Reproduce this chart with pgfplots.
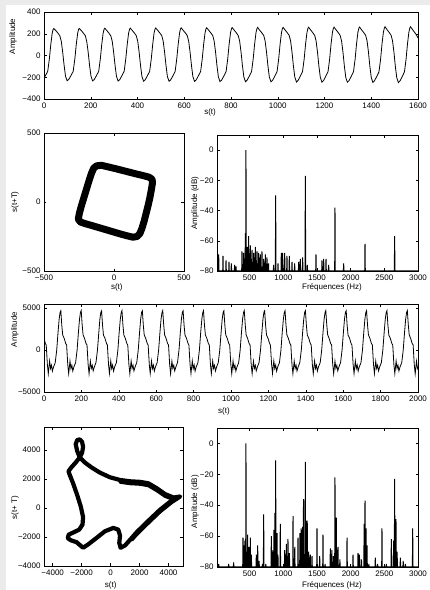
\documentclass[border=0pt]{standalone}
\usepackage{fontspec}
\setmainfont{Liberation Sans}
\usepackage{pgfplots}
\pgfplotsset{compat=1.18}
\definecolor{bggray}{HTML}{EBEBEB}
\pgfplotsset{
  mfig/.style={scale only axis, anchor=north west,
    axis line style={line width=0.7bp,black},
    tick align=inside, major tick length=2.5bp,
    tick style={line width=0.5bp,black},
    tick label style={font=\fontsize{8bp}{9.6bp}\selectfont},
    label style={font=\fontsize{8bp}{9.6bp}\selectfont}},
  spec/.style={mfig, width=201bp, xmin=15, xmax=3000, ymin=-80, ymax=10,
    xtick={500,1000,...,3000}, xticklabels={500,1000,1500,2000,2500,3000},
    ytick={-80,-60,...,0}, yticklabels={−80,−60,−40,−20,0},
    xlabel={Fréquences (Hz)}, ylabel={Amplitude (dB)}},
}
\begin{document}
\begin{tikzpicture}
\fill[bggray] (0,0) rectangle (430bp,-590bp);
\fill[white] (6bp,-5bp) rectangle (430bp,-590bp);

% signal 1
\begin{axis}[mfig, at={(44bp,-12bp)}, width=374bp, height=87bp,
  xmin=0, xmax=1600, ymin=-400, ymax=400,
  xtick={0,200,...,1600}, xticklabels={0,200,400,600,800,1000,1200,1400,1600},
  ytick={-400,-200,0,200,400}, yticklabels={−400,−200,0,200,400},
  xlabel={s(t)}, ylabel={Amplitude},
  xlabel style={at={(axis description cs:0.444,-0.15)},anchor=center},
  ylabel style={at={(axis description cs:-0.083,0.72)},anchor=center}]
\addplot[black, line width=0.8bp] coordinates {
(0,-205) (5,-190) (16,-145) (23,-30) (29,100) (35,205) (39,240)
(42,248) (51,228) (60,205) (68,180) (74,130) (80,30) (86,-90) (92,-190) (99,-232) (106,-220) (114,-190) (125,-145) (132,-30) (138,100) (144,205) (148,240)
(151,249) (160,228) (169,204) (177,181) (183,128) (189,30) (195,-92) (201,-190) (208,-233) (215,-221) (223,-190) (234,-146) (241,-30) (247,100) (253,206) (257,241)
(260,251) (269,229) (278,205) (286,180) (292,130) (298,28) (304,-90) (310,-192) (317,-235) (324,-222) (332,-191) (343,-145) (350,-28) (356,102) (362,207) (366,242)
(369,252) (378,229) (387,206) (395,181) (401,131) (407,30) (413,-92) (419,-193) (426,-236) (433,-223) (441,-192) (452,-146) (459,-30) (465,101) (471,208) (475,243)
(478,253) (487,230) (496,206) (504,182) (510,130) (516,29) (522,-93) (528,-194) (535,-237) (542,-224) (550,-193) (561,-147) (568,-30) (574,102) (580,208) (584,244)
(587,254) (596,230) (605,207) (613,182) (619,131) (625,30) (631,-93) (637,-195) (644,-238) (651,-225) (659,-193) (670,-147) (677,-31) (683,103) (689,209) (693,245)
(696,255) (705,231) (714,207) (722,183) (728,132) (734,30) (740,-94) (746,-196) (753,-240) (760,-226) (768,-194) (779,-148) (786,-31) (792,103) (798,210) (802,246)
(805,257) (814,232) (823,208) (831,183) (837,132) (843,31) (849,-95) (855,-197) (862,-241) (869,-227) (877,-195) (888,-148) (895,-31) (901,104) (907,211) (911,247)
(914,258) (923,232) (932,208) (940,184) (946,133) (952,31) (958,-95) (964,-198) (971,-242) (978,-228) (986,-196) (997,-149) (1004,-32) (1010,104) (1016,211) (1020,248)
(1023,259) (1032,233) (1041,209) (1049,184) (1055,133) (1061,31) (1067,-96) (1073,-199) (1080,-244) (1087,-229) (1095,-196) (1106,-149) (1113,-32) (1119,105) (1125,212) (1129,249)
(1132,260) (1141,234) (1150,209) (1158,185) (1164,134) (1170,32) (1176,-97) (1182,-200) (1189,-245) (1196,-230) (1204,-197) (1215,-150) (1222,-32) (1228,105) (1234,213) (1238,250)
(1241,261) (1250,234) (1259,210) (1267,185) (1273,134) (1279,32) (1285,-97) (1291,-201) (1298,-246) (1305,-231) (1313,-198) (1324,-150) (1331,-33) (1337,106) (1343,214) (1347,251)
(1350,262) (1359,235) (1368,210) (1376,186) (1382,135) (1388,32) (1394,-98) (1400,-202) (1407,-248) (1414,-232) (1422,-199) (1433,-151) (1440,-33) (1446,106) (1452,214) (1456,252)
(1459,264) (1468,236) (1477,211) (1485,186) (1491,135) (1497,33) (1503,-99) (1509,-203) (1516,-249) (1523,-233) (1531,-200) (1542,-151) (1549,-33) (1555,107) (1561,215) (1565,253)
(1568,265) (1577,237) (1586,211) (1594,187) (1600,160)
};
\end{axis}

% phase portrait 1
\begin{axis}[mfig, at={(44bp,-133bp)}, width=140bp, height=138bp,
  xmin=-500, xmax=500, ymin=-500, ymax=500,
  xtick={-500,0,500}, xticklabels={−500,0,500},
  ytick={-500,0,500}, yticklabels={−500,0,500},
  xlabel={s(t)}, ylabel={s(t+T)},
  xlabel style={at={(axis description cs:0.52,-0.12)},anchor=center},
  ylabel style={at={(axis description cs:-0.207,0.5)},anchor=center}]
\addplot[black, line width=7bp, line join=round, line cap=round] coordinates {
(60,229) (110,216) (160,203) (210,191) (250,180) (272,165) (275,140)
(268,95) (258,40) (245,-20) (230,-80) (215,-140) (200,-190) (185,-228) (165,-250) (135,-255)
(90,-244) (40,-230) (-10,-215) (-60,-200) (-110,-185) (-160,-170) (-205,-157) (-240,-145) (-255,-125)
(-248,-85) (-235,-35) (-220,15) (-205,65) (-190,115) (-175,165) (-160,210) (-145,245) (-125,262)
(-90,266) (-40,254) (10,242) (60,229) (110,216)
};
\end{axis}

% spectrum 1
\begin{axis}[spec, at={(217bp,-135bp)}, height=136bp,
  xlabel style={at={(axis description cs:0.572,-0.118)},anchor=center},
  ylabel style={at={(axis description cs:-0.109,0.5)},anchor=center}]
\addplot[black, line width=1bp] coordinates {
(15,-80)
(36,-80)(40,-69)(44,-80) (100,-80)(104,-70)(108,-80) (145,-80)(149,-73)(153,-80)
(189,-80)(193,-74)(197,-80) (224,-80)(228,-75)(232,-80) (273,-80)(277,-76)(281,-80)
(293,-80)(297,-77)(301,-80) (382,-80)(386,-67)(390,-80) (407,-80)(411,-68)(415,-80)
(432,-80)(436,-55)(440,-80) (441,-80)(445,0)(449,-80) (461,-80)(465,-64)(469,-80)
(481,-80)(485,-57)(489,-80) (496,-80)(500,-70)(504,-80) (506,-80)(510,-63)(514,-80)
(521,-80)(525,-72)(529,-80) (531,-80)(535,-66)(539,-80) (545,-80)(549,-74)(553,-80)
(555,-80)(559,-68)(563,-80) (570,-80)(574,-71)(578,-80) (580,-80)(584,-64)(588,-80)
(596,-80)(600,-73)(604,-80) (605,-80)(609,-67)(613,-80) (620,-80)(624,-75)(628,-80)
(630,-80)(634,-68)(638,-80) (654,-80)(658,-69)(662,-80) (679,-80)(683,-67)(687,-80)
(704,-80)(708,-72)(712,-80) (729,-80)(733,-69)(737,-80) (753,-80)(757,-71)(761,-80)
(776,-80)(780,-75)(784,-80) (852,-80)(856,-76)(860,-80) (882,-80)(886,-30)(890,-80)
(917,-80)(921,-75)(925,-80) (966,-80)(970,-68)(974,-80) (986,-80)(990,-68)(994,-80)
(1016,-80)(1020,-68)(1024,-80) (1050,-80)(1054,-70)(1058,-80) (1085,-80)(1089,-70)(1093,-80)
(1125,-80)(1129,-74)(1133,-80) (1164,-80)(1168,-75)(1172,-80) (1224,-80)(1228,-74)(1232,-80)
(1248,-80)(1252,-72)(1256,-80) (1283,-80)(1287,-71)(1291,-80) (1323,-80)(1327,-17)(1331,-80)
(1352,-80)(1356,-76)(1360,-80) (1481,-80)(1485,-69)(1489,-80) (1570,-80)(1574,-73)(1578,-80)
(1595,-80)(1599,-72)(1603,-80) (1630,-80)(1634,-72)(1638,-80) (1669,-80)(1673,-76)(1677,-80)
(1763,-80)(1767,-38)(1771,-80) (1892,-80)(1896,-75)(1900,-80) (2209,-80)(2213,-62)(2217,-80)
(2649,-80)(2653,-57)(2657,-80)
(3000,-80)
};
\end{axis}

% signal 2
\begin{axis}[mfig, at={(44bp,-304bp)}, width=374bp, height=88bp,
  xmin=0, xmax=2000, ymin=-5000, ymax=5500,
  xtick={0,200,...,2000}, xticklabels={0,200,400,600,800,1000,1200,1400,1600,1800,2000},
  ytick={-5000,0,5000}, yticklabels={−5000,0,5000},
  xlabel={s(t)}, ylabel={Amplitude},
  xlabel style={at={(axis description cs:0.481,-0.216)},anchor=center},
  ylabel style={at={(axis description cs:-0.078,0.71)},anchor=center}]
\addplot[black, line width=0.8bp] coordinates {
(0,1450) (7,800) (12,600) (18,-1700) (23,-2800) (30,-1300) (35,-2200) (40,-1800) (45,-2500) (51,-2000) (60,-1500) (68,0) (75,2100) (81,3700) (86,4500)
(90,4700) (95,3000) (100,1800) (108,1400) (116,800) (121,600) (127,-1700) (132,-2800) (139,-1300) (144,-2200) (149,-1800) (154,-2500) (160,-2000) (169,-1500) (177,0) (184,2100) (190,3700) (195,4500)
(199,4720) (204,3050) (209,1820) (217,1380) (225,780) (230,620) (236,-1720) (241,-2820) (248,-1320) (253,-2180) (258,-1820) (263,-2480) (269,-2020) (278,-1480) (286,20) (293,2080) (299,3720) (304,4520)
(308,4690) (313,2980) (318,1790) (326,1410) (334,810) (339,590) (345,-1690) (350,-2790) (357,-1290) (362,-2210) (367,-1790) (372,-2510) (378,-1990) (387,-1510) (395,-10) (402,2110) (408,3690) (413,4490)
(417,4710) (422,3020) (427,1810) (435,1390) (443,790) (448,610) (454,-1710) (459,-2810) (466,-1310) (471,-2190) (476,-1810) (481,-2490) (487,-2010) (496,-1490) (504,10) (511,2090) (517,3710) (522,4510)
(526,4700) (531,3000) (536,1800) (544,1400) (552,800) (557,600) (563,-1700) (568,-2800) (575,-1300) (580,-2200) (585,-1800) (590,-2500) (596,-2000) (605,-1500) (613,0) (620,2100) (626,3700) (631,4500)
(635,4720) (640,3050) (645,1820) (653,1380) (661,780) (666,620) (672,-1720) (677,-2820) (684,-1320) (689,-2180) (694,-1820) (699,-2480) (705,-2020) (714,-1480) (722,20) (729,2080) (735,3720) (740,4520)
(744,4690) (749,2980) (754,1790) (762,1410) (770,810) (775,590) (781,-1690) (786,-2790) (793,-1290) (798,-2210) (803,-1790) (808,-2510) (814,-1990) (823,-1510) (831,-10) (838,2110) (844,3690) (849,4490)
(853,4710) (858,3020) (863,1810) (871,1390) (879,790) (884,610) (890,-1710) (895,-2810) (902,-1310) (907,-2190) (912,-1810) (917,-2490) (923,-2010) (932,-1490) (940,10) (947,2090) (953,3710) (958,4510)
(962,4700) (967,3000) (972,1800) (980,1400) (988,800) (993,600) (999,-1700) (1004,-2800) (1011,-1300) (1016,-2200) (1021,-1800) (1026,-2500) (1032,-2000) (1041,-1500) (1049,0) (1056,2100) (1062,3700) (1067,4500)
(1071,4720) (1076,3050) (1081,1820) (1089,1380) (1097,780) (1102,620) (1108,-1720) (1113,-2820) (1120,-1320) (1125,-2180) (1130,-1820) (1135,-2480) (1141,-2020) (1150,-1480) (1158,20) (1165,2080) (1171,3720) (1176,4520)
(1180,4690) (1185,2980) (1190,1790) (1198,1410) (1206,810) (1211,590) (1217,-1690) (1222,-2790) (1229,-1290) (1234,-2210) (1239,-1790) (1244,-2510) (1250,-1990) (1259,-1510) (1267,-10) (1274,2110) (1280,3690) (1285,4490)
(1289,4710) (1294,3020) (1299,1810) (1307,1390) (1315,790) (1320,610) (1326,-1710) (1331,-2810) (1338,-1310) (1343,-2190) (1348,-1810) (1353,-2490) (1359,-2010) (1368,-1490) (1376,10) (1383,2090) (1389,3710) (1394,4510)
(1398,4700) (1403,3000) (1408,1800) (1416,1400) (1424,800) (1429,600) (1435,-1700) (1440,-2800) (1447,-1300) (1452,-2200) (1457,-1800) (1462,-2500) (1468,-2000) (1477,-1500) (1485,0) (1492,2100) (1498,3700) (1503,4500)
(1507,4720) (1512,3050) (1517,1820) (1525,1380) (1533,780) (1538,620) (1544,-1720) (1549,-2820) (1556,-1320) (1561,-2180) (1566,-1820) (1571,-2480) (1577,-2020) (1586,-1480) (1594,20) (1601,2080) (1607,3720) (1612,4520)
(1616,4690) (1621,2980) (1626,1790) (1634,1410) (1642,810) (1647,590) (1653,-1690) (1658,-2790) (1665,-1290) (1670,-2210) (1675,-1790) (1680,-2510) (1686,-1990) (1695,-1510) (1703,-10) (1710,2110) (1716,3690) (1721,4490)
(1725,4710) (1730,3020) (1735,1810) (1743,1390) (1751,790) (1756,610) (1762,-1710) (1767,-2810) (1774,-1310) (1779,-2190) (1784,-1810) (1789,-2490) (1795,-2010) (1804,-1490) (1812,10) (1819,2090) (1825,3710) (1830,4510)
(1834,4700) (1839,3000) (1844,1800) (1852,1400) (1860,800) (1865,600) (1871,-1700) (1876,-2800) (1883,-1300) (1888,-2200) (1893,-1800) (1898,-2500) (1904,-2000) (1913,-1500) (1921,0) (1928,2100) (1934,3700) (1939,4500)
(1943,4720) (1948,3050) (1953,1820) (1961,1380) (1969,780) (1974,620) (1980,-1720) (1985,-2820) (1992,-1320) (1997,-2180) (2000,-2000)
};
\end{axis}

% phase portrait 2
\begin{axis}[mfig, at={(44bp,-427bp)}, width=139bp, height=139bp,
  xmin=-4600, xmax=5000, ymin=-4000, ymax=5600,
  xtick={-4000,-2000,...,4000}, xticklabels={−4000,−2000,0,2000,4000},
  ytick={-4000,-2000,...,4000}, yticklabels={−4000,−2000,0,2000,4000},
  xlabel={s(t)}, ylabel={s(t+ T)},
  xlabel style={at={(axis description cs:0.48,-0.137)},anchor=center},
  ylabel style={at={(axis description cs:-0.209,0.42)},anchor=center}]
\addplot[black, line width=4.2bp, line join=round, line cap=round] coordinates {
(-2590,1710) (-2310,910) (-2060,110) (-1900,-620) (-1940,-1140)
(-2170,-1490) (-2540,-1670) (-2890,-1830) (-2960,-2080) (-2750,-2220) (-2360,-2350) (-1900,-2740) (-1550,-2510)
(-970,-2060) (-390,-1600) (190,-1370) (530,-1490) (650,-1900) (600,-2400) (690,-2740) (1000,-2580) (1460,-2060)
(1800,-1670) (2500,-980) (3420,-110) (4230,530) (4810,800) (4350,730) (3770,960) (3190,1370) (2610,1710)
(2040,1810) (1340,1850) (650,1940) (-50,2130) (-740,2450) (-1320,2810) (-1780,3150) (-2130,3500)
(-2310,3950) (-2410,4410) (-2310,4690) (-2130,4750) (-1970,4570) (-1900,4230) (-1970,3820) (-2130,3500)
(-2410,3150) (-2710,2810) (-2910,2540) (-2820,2290) (-2590,1710) (-2310,910)
};
\addplot[black, line width=3.5bp, line join=round, line cap=round] coordinates {
(1460,-2200) (1800,-1820) (2500,-1130) (3420,-250) (4230,400) (4700,700) (4350,600) (3770,820) (3190,1220)
(2610,1560) (2040,1660) (1340,1700) (650,1800)
};
\end{axis}

% spectrum 2
\begin{axis}[spec, at={(217bp,-428bp)}, height=139bp,
  xlabel style={at={(axis description cs:0.572,-0.13)},anchor=center},
  ylabel style={at={(axis description cs:-0.109,0.47)},anchor=center}]
\addplot[black, line width=1bp] coordinates {
(15,-80)
(36,-80)(40,-78)(44,-80) (184,-80)(188,-78)(192,-80) (258,-80)(262,-77)(266,-80)
(397,-80)(401,-61)(405,-80) (417,-80)(421,-66)(425,-80) (426,-80)(430,-63)(434,-80)
(441,-80)(445,0)(449,-80) (466,-80)(470,-59)(474,-80) (486,-80)(490,-67)(494,-80)
(506,-80)(510,-61)(514,-80) (521,-80)(525,-72)(529,-80) (595,-80)(599,-72)(603,-80)
(615,-80)(619,-66)(623,-80) (636,-80)(640,-76)(644,-80) (686,-80)(690,-78)(694,-80)
(704,-80)(708,-46)(712,-80) (736,-80)(740,-78)(744,-80) (818,-80)(822,-60)(826,-80)
(831,-80)(835,-69)(839,-80) (856,-80)(860,-56)(864,-80) (871,-80)(875,-45)(879,-80)
(882,-80)(886,-11)(890,-80) (902,-80)(906,-58)(910,-80) (916,-80)(920,-72)(924,-80)
(951,-80)(955,-52)(959,-80) (1016,-80)(1020,-69)(1024,-80) (1041,-80)(1045,-65)(1049,-80)
(1065,-80)(1069,-62)(1073,-80) (1086,-80)(1090,-71)(1094,-80) (1140,-80)(1144,-47)(1148,-80)
(1166,-80)(1170,-67)(1174,-80) (1214,-80)(1218,-61)(1222,-80) (1243,-80)(1247,-58)(1251,-80)
(1261,-80)(1265,-55)(1269,-80) (1281,-80)(1285,-54)(1289,-80) (1296,-80)(1300,-36)(1304,-80)
(1323,-80)(1327,-12)(1331,-80) (1341,-80)(1345,-50)(1349,-80) (1351,-80)(1355,-50)(1359,-80)
(1372,-80)(1376,-70)(1380,-80) (1396,-80)(1400,-72)(1404,-80) (1422,-80)(1426,-73)(1430,-80)
(1496,-80)(1500,-55)(1504,-80) (1536,-80)(1540,-73)(1544,-80) (1585,-80)(1589,-59)(1593,-80)
(1616,-80)(1620,-78)(1624,-80) (1694,-80)(1698,-68)(1702,-80) (1716,-80)(1720,-69)(1724,-80)
(1741,-80)(1745,-73)(1749,-80) (1763,-80)(1767,-22)(1771,-80) (1783,-80)(1787,-48)(1791,-80)
(1808,-80)(1812,-67)(1816,-80) (1836,-80)(1840,-75)(1844,-80) (1942,-80)(1946,-61)(1950,-80)
(2031,-80)(2035,-72)(2039,-80) (2105,-80)(2109,-71)(2113,-80) (2126,-80)(2130,-72)(2134,-80)
(2156,-80)(2160,-75)(2164,-80) (2196,-80)(2200,-52)(2204,-80) (2209,-80)(2213,-37)(2217,-80)
(2224,-80)(2228,-55)(2232,-80) (2239,-80)(2243,-66)(2247,-80) (2266,-80)(2270,-78)(2274,-80)
(2362,-80)(2366,-74)(2370,-80) (2396,-80)(2400,-78)(2404,-80) (2461,-80)(2465,-55)(2469,-80)
(2526,-80)(2530,-78)(2534,-80) (2600,-80)(2604,-62)(2608,-80) (2634,-80)(2638,-63)(2642,-80)
(2649,-80)(2653,-23)(2657,-80) (2669,-80)(2673,-49)(2677,-80) (2686,-80)(2690,-70)(2694,-80)
(2734,-80)(2738,-74)(2742,-80) (2776,-80)(2780,-76)(2784,-80) (2808,-80)(2812,-78)(2816,-80)
(2917,-80)(2921,-55)(2925,-80)
(3000,-80)
};
\end{axis}
\pgfresetboundingbox
\useasboundingbox (0,0) rectangle (430bp,-590bp);
\end{tikzpicture}
\end{document}
